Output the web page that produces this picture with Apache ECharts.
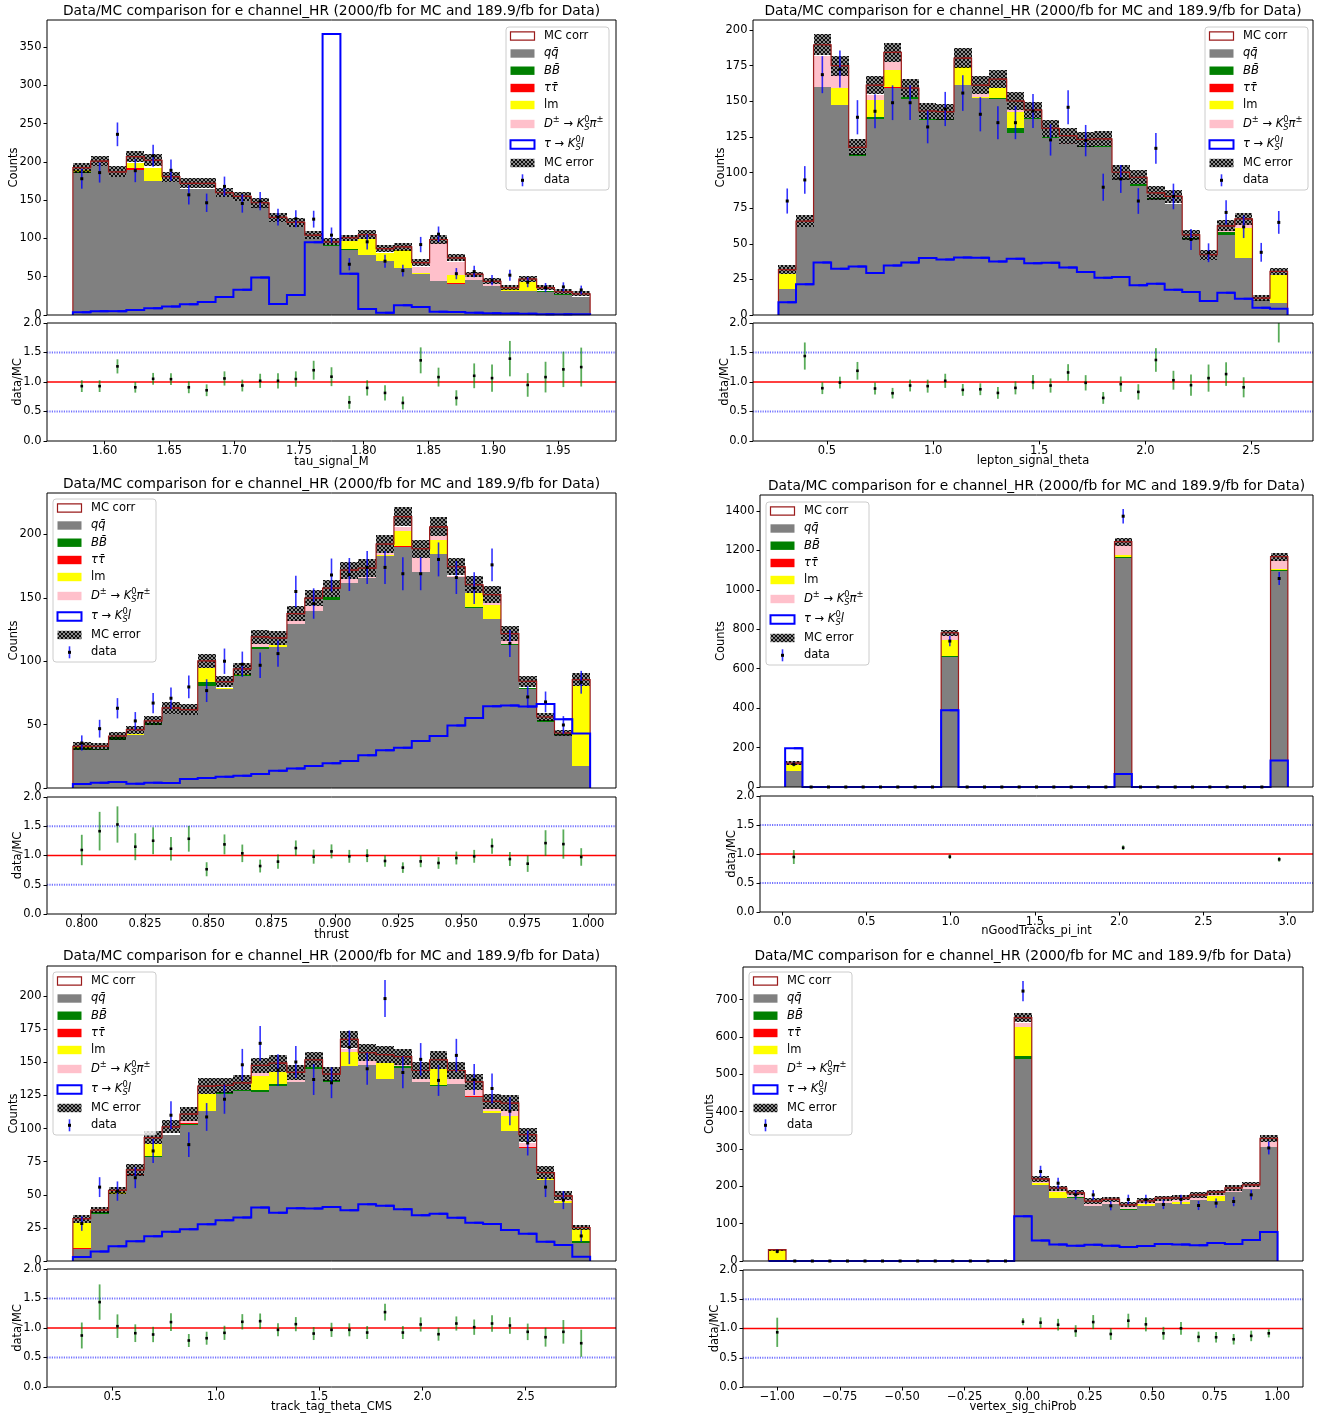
<!DOCTYPE html>
<html><head><meta charset="utf-8">
<script src="https://cdn.jsdelivr.net/npm/echarts@6/dist/echarts.min.js"></script>
<style>html,body{margin:0;padding:0;background:#fff}#c{width:1330px;height:1418px}</style>
</head><body><div id="c"></div>
<script>
// ===================== DATA =====================
const TITLE = 'Data/MC comparison for e channel_HR (2000/fb for MC and 189.9/fb for Data)';
const ratio_refs = [1.0, 0.5, 1.5];
const ratio_yTicks = [0, 0.5, 1.0, 1.5, 2.0];

// ---- Panel 1: tau_signal_M ----
const p1_range = [1.5756, 1.9747];
const p1_xTicks = [1.60, 1.65, 1.70, 1.75, 1.80, 1.85, 1.90, 1.95];
const p1_yTicks = [0, 50, 100, 150, 200, 250, 300, 350];
const p1_qq = [186, 194, 180, 190, 174.5, 174, 165, 165, 153.5, 149, 140.5, 122, 115, 99, 90, 85.5, 78, 70, 61.5, 53.7, 44, 41, 46, 37.5, 31.4, 31.4, 30.5, 26, 23.5];
const p1_bb = [1, 1, 0.5, 0, 0.5, 0, 0, 0, 0, 0, 0, 0, 0, 0, 1.3, 0.9, 0, 0, 0, 0, 0.8, 0, 0, 1, 0, 0, 1, 1, 0.5];
const p1_tt = [0, 0, 0, 1.5, 0, 0, 0, 0, 0, 0, 0, 0, 0, 0, 0, 0, 0, 0, 0, 0, 0, 1, 0, 0, 0, 0, 0, 0, 0];
const p1_lm = [2, 0, 0, 7.5, 16.5, 0, 0, 0, 0, 0, 0, 0, 0, 0, 0, 10, 21.5, 11, 24, 1.3, 0, 10, 0, 0, 2.2, 11.4, 0, 0, 0];
const p1_dd = [1, 0, 0, 0, 0, 0, 0, 0, 0, 0, 0, 0, 0, 0, 0, 0, 0, 0, 0, 8, 49, 17.4, 4, 2, 0, 0, 0, 0, 0];
const p1_corr = [192.4, 201, 187, 207, 202, 180.7, 172, 172, 159.7, 155, 146.6, 127.4, 121, 104.3, 95.6, 101, 105, 86.8, 89, 68.5, 98.6, 74.6, 53.2, 44, 35.8, 47, 35.8, 30.5, 27.5];
const p1_mcerr = [6.5, 6.5, 7, 7.5, 8, 6.5, 6.5, 6.5, 6, 6, 6.5, 5.3, 6, 5, 4.5, 4, 6, 5, 5, 4, 5.5, 4.5, 3.5, 4, 3, 3.5, 3.5, 3.2, 3.2];
const p1_sig = [3.5, 5, 5, 6.5, 8.7, 11, 14, 17, 23.5, 33, 49, 14.4, 26, 95, 367, 54, 7.9, 3, 12.7, 10.5, 4.4, 4, 3, 2.2, 1.8, 1.7, 0.9, 0.9, 0.9];
const p1_data = [178, 186, 236, 188.5, 208, 189, 157, 146.6, 168, 145.7, 148.8, 127.9, 125.7, 125.2, 104.3, 66.3, 95.6, 70.3, 58, 92, 105.6, 54, 56.7, 45.4, 52, 42.8, 35.8, 36.7, 32.7];
const p1_dataErr = [13, 13, 15.5, 15, 14.5, 14, 12.5, 12, 12.8, 12, 12, 11, 11, 11, 10, 8, 10, 8.5, 7.7, 10, 10, 7.3, 7.5, 6.7, 7.2, 6.5, 6, 6, 5.7];
const p1_ratio = [0.93, 0.93, 1.265, 0.91, 1.054, 1.048, 0.91, 0.86, 1.06, 0.94, 1.02, 1.02, 1.05, 1.2, 1.09, 0.655, 0.9, 0.815, 0.645, 1.367, 1.083, 0.73, 1.105, 1.066, 1.396, 0.95, 1.083, 1.214, 1.253];
const p1_ratioErr = [0.1, 0.1, 0.12, 0.09, 0.1, 0.1, 0.1, 0.1, 0.12, 0.1, 0.12, 0.13, 0.13, 0.16, 0.16, 0.11, 0.13, 0.13, 0.11, 0.22, 0.16, 0.13, 0.21, 0.23, 0.3, 0.2, 0.26, 0.3, 0.33];

// ---- Panel 2: lepton_signal_theta ----
const p2_range = [0.2717, 2.67];
const p2_xTicks = [0.5, 1.0, 1.5, 2.0, 2.5];
const p2_yTicks = [0, 25, 50, 75, 100, 125, 150, 175, 200];
const p2_qq = [18, 61.7, 160.3, 147.4, 111.7, 137.6, 159, 151.4, 137, 137, 161.4, 152.3, 151.6, 127.5, 137.4, 124.3, 119.8, 117.7, 118, 96, 90.4, 81.3, 78, 53, 38.5, 56.3, 40, 10.3, 8.4];
const p2_bb = [0, 0, 0, 0, 1, 1.4, 0, 1.4, 0.8, 0.8, 0, 0, 0.7, 4, 0.9, 0.9, 0, 0.9, 0.9, 0, 1.6, 0.8, 0, 1.2, 0, 1.9, 0, 0, 0];
const p2_tt = [0, 0, 0, 0, 0, 0, 1, 0, 0, 0, 0, 0, 0, 0, 0, 0, 0, 0, 0, 0, 0, 0, 0, 0, 0, 0, 0, 0, 0];
const p2_lm = [10.7, 0, 0, 11.6, 0, 11.9, 12, 0, 0, 0, 12.4, 0.9, 6.7, 11.2, 0, 0, 0, 0, 0, 0, 0, 0, 0, 0, 0, 0, 21.2, 0, 19.9];
const p2_dd = [0, 0, 21.7, 9.2, 0, 3.7, 5.3, 0, 0, 0, 0, 1.7, 0, 1.2, 0, 0, 0.7, 0, 0, 0, 0, 0, 0, 0, 0, 1.6, 3.3, 0, 0];
const p2_corr = [31.8, 65.9, 189.7, 175, 117.7, 161.4, 184.3, 159.3, 143.2, 142.7, 180.3, 161.4, 165.6, 150.2, 143.9, 131, 125.9, 123.3, 123.6, 100.2, 96.7, 85.7, 83.2, 56.3, 42.3, 62.6, 67.5, 11.9, 30.6];
const p2_mcerr = [3, 4.3, 7.5, 7, 5.6, 6.5, 6.7, 6.3, 5.5, 5.5, 6.8, 6.3, 6.5, 6.4, 5.6, 5.8, 5.6, 5.1, 5.3, 5.1, 4.9, 4.9, 4.5, 3.4, 3.6, 3.9, 4, 1.8, 2.5];
const p2_sig = [8.9, 21.5, 36.9, 32.5, 34, 29.4, 34.8, 36.9, 40, 39, 40.4, 40.2, 37.6, 39.5, 36.4, 36.7, 33.4, 30.1, 26.2, 26.6, 20.8, 22, 17.8, 16.1, 9.8, 15.6, 11.4, 5.1, 4.4];
const p2_data = [80, 94.8, 168.7, 172.6, 138.8, 143, 149, 149, 132, 144.6, 155.8, 140.9, 135, 135, 143.2, 122.9, 145.8, 122.4, 89.7, 95.5, 80, 117, 83.2, 53, 43.7, 72, 61.9, 44, 65];
const p2_dataErr = [8.8, 9.7, 13, 13, 12, 12, 12.2, 12.2, 11.5, 12, 12.5, 12, 11.6, 11.6, 12, 11, 12, 11, 9.5, 9.8, 9, 10.8, 9, 7.3, 6.6, 8.5, 7.9, 6.6, 8];
const p2_ratio = [2.5, 1.44, 0.895, 0.99, 1.19, 0.89, 0.81, 0.94, 0.93, 1.02, 0.866, 0.877, 0.815, 0.9, 0.997, 0.94, 1.162, 0.986, 0.73, 0.963, 0.832, 1.373, 1.03, 0.946, 1.066, 1.134, 0.91, 3.7, 2.12];
const p2_ratioErr = [0.3, 0.23, 0.1, 0.1, 0.15, 0.1, 0.09, 0.1, 0.11, 0.12, 0.1, 0.1, 0.1, 0.11, 0.12, 0.12, 0.14, 0.13, 0.1, 0.13, 0.13, 0.2, 0.16, 0.18, 0.23, 0.2, 0.17, 0.6, 0.45];

// ---- Panel 3: thrust ----
const p3_range = [0.7965, 1.0009];
const p3_xTicks = [0.800, 0.825, 0.850, 0.875, 0.900, 0.925, 0.950, 0.975, 1.000];
const p3_yTicks = [0, 50, 100, 150, 200];
const p3_qq = [29.7, 30.3, 37.6, 41.8, 49.7, 58.4, 57.6, 80.5, 78.2, 88.4, 109.5, 111.3, 129, 139.7, 148.4, 161.3, 165.3, 182.6, 190.3, 170.5, 184.2, 166.6, 141.6, 133.2, 112.9, 78.2, 52.1, 41.6, 17.1];
const p3_bb = [1.9, 0.5, 2.7, 0, 1.9, 0, 0, 3.4, 0, 1, 1.8, 0, 0.6, 0, 2.4, 0, 0, 0, 0, 0, 0.6, 0, 0.8, 0, 1, 1, 1.8, 0.6, 0];
const p3_tt = [0, 0, 0, 0, 0, 0, 0, 0, 0, 0, 0, 0, 0, 0, 0, 0, 0, 0, 0.5, 0, 0, 0, 0, 0, 0, 0, 0, 0, 0.5];
const p3_lm = [0.8, 0, 0, 1.1, 0, 0, 0, 10.8, 1, 0.5, 0, 1.3, 0, 0, 0, 0, 0, 1.1, 12.1, 0, 10.5, 0, 11.6, 10.8, 0, 0, 0, 0, 63];
const p3_dd = [0, 0, 0, 0, 0, 0, 0, 0, 0, 0, 2.7, 0, 2.8, 3.7, 0, 3.4, 1, 1.3, 3.1, 10.8, 3.2, 1, 0, 2, 2.9, 0, 0, 0, 0];
const p3_corr = [32.9, 32.9, 41, 46, 52.9, 63.2, 61.8, 100.3, 83.9, 94, 119.2, 118.4, 137.6, 149.7, 157.6, 171.8, 173.4, 192.4, 214, 188.7, 206, 174.5, 160.3, 152.6, 121.8, 84.2, 56, 43.4, 85.5];
const p3_mcerr = [3.2, 2.8, 3.5, 3.2, 3.5, 4.5, 4.2, 5.7, 4.5, 4.6, 5.3, 5.8, 6.1, 6.3, 6.6, 6.6, 7, 7.1, 7.6, 7.1, 7.4, 6.6, 6.6, 6.6, 5.9, 4.5, 2.9, 2, 5];
const p3_sig = [3.2, 4.2, 4.7, 3.4, 4.2, 3.9, 7.1, 7.9, 8.9, 9.7, 11, 13.7, 15.3, 17.4, 19.5, 21.3, 25.8, 29.7, 31.8, 37.1, 41, 49.2, 55.3, 64.5, 65, 64.2, 66.3, 54.2, 42.9];
const p3_data = [35.5, 46.8, 62.9, 52.9, 67, 70.8, 79.7, 76.8, 100, 97.6, 96.8, 106, 155, 145.5, 168, 168.4, 174, 174, 169, 169, 180.3, 166, 157.6, 176, 114, 71.8, 67.9, 49.7, 83.4];
const p3_dataErr = [6, 7, 8, 7, 8, 8.4, 9, 9, 10, 10, 10, 10.3, 12.5, 12, 13, 13, 13, 13, 13, 13, 13.4, 13, 12.5, 13, 10.7, 8.5, 8.2, 7, 9];
const p3_ratio = [1.094, 1.416, 1.53, 1.15, 1.252, 1.116, 1.286, 0.765, 1.19, 1.037, 0.82, 0.895, 1.127, 0.98, 1.07, 0.986, 0.997, 0.906, 0.793, 0.9, 0.872, 0.957, 0.986, 1.16, 0.94, 0.86, 1.212, 1.195, 0.975];
const p3_ratioErr = [0.26, 0.33, 0.31, 0.23, 0.23, 0.2, 0.22, 0.12, 0.17, 0.15, 0.11, 0.12, 0.13, 0.12, 0.12, 0.11, 0.11, 0.1, 0.09, 0.1, 0.1, 0.11, 0.11, 0.13, 0.12, 0.14, 0.22, 0.25, 0.15];

// ---- Panel 4: nGoodTracks_pi_int ----
const p4_range = [0.0167, 3.002];
const p4_xTicks = [0.0, 0.5, 1.0, 1.5, 2.0, 2.5, 3.0];
const p4_yTicks = [0, 200, 400, 600, 800, 1000, 1200, 1400];
const p4_qq = [79.8, 0, 0, 0, 0, 0, 0, 0, 0, 660, 0, 0, 0, 0, 0, 0, 0, 0, 0, 1162, 0, 0, 0, 0, 0, 0, 0, 0, 1096];
const p4_bb = [0, 0, 0, 0, 0, 0, 0, 0, 0, 5, 0, 0, 0, 0, 0, 0, 0, 0, 0, 3, 0, 0, 0, 0, 0, 0, 0, 0, 2];
const p4_tt = [0, 0, 0, 0, 0, 0, 0, 0, 0, 0, 0, 0, 0, 0, 0, 0, 0, 0, 0, 0, 0, 0, 0, 0, 0, 0, 0, 0, 0];
const p4_lm = [30.5, 0, 0, 0, 0, 0, 0, 0, 0, 82, 0, 0, 0, 0, 0, 0, 0, 0, 0, 13, 0, 0, 0, 0, 0, 0, 0, 0, 5];
const p4_dd = [5, 0, 0, 0, 0, 0, 0, 0, 0, 22, 0, 0, 0, 0, 0, 0, 0, 0, 0, 47, 0, 0, 0, 0, 0, 0, 0, 0, 46];
const p4_corr = [121, 0, 0, 0, 0, 0, 0, 0, 0, 782, 0, 0, 0, 0, 0, 0, 0, 0, 0, 1244, 0, 0, 0, 0, 0, 0, 0, 0, 1168];
const p4_mcerr = [9, 0, 0, 0, 0, 0, 0, 0, 0, 14, 0, 0, 0, 0, 0, 0, 0, 0, 0, 20, 0, 0, 0, 0, 0, 0, 0, 0, 20];
const p4_sig = [196.9, 0, 0, 0, 0, 0, 0, 0, 0, 388.6, 0, 0, 0, 0, 0, 0, 0, 0, 0, 66.2, 0, 0, 0, 0, 0, 0, 0, 0, 134];
const p4_data = [115.4, 0, 0, 0, 0, 0, 0, 0, 0, 740, 0, 0, 0, 0, 0, 0, 0, 0, 0, 1373, 0, 0, 0, 0, 0, 0, 0, 0, 1057];
const p4_dataErr = [10, 0, 0, 0, 0, 0, 0, 0, 0, 26, 0, 0, 0, 0, 0, 0, 0, 0, 0, 37, 0, 0, 0, 0, 0, 0, 0, 0, 33];
const p4_ratio = [0.948, null, null, null, null, null, null, null, null, 0.954, null, null, null, null, null, null, null, null, null, 1.109, null, null, null, null, null, null, null, null, 0.908];
const p4_ratioErr = [0.12, null, null, null, null, null, null, null, null, 0.04, null, null, null, null, null, null, null, null, null, 0.04, null, null, null, null, null, null, null, null, 0.04];

// ---- Panel 5: track_tag_theta_CMS ----
const p5_range = [0.308, 2.812];
const p5_xTicks = [0.5, 1.0, 1.5, 2.0, 2.5];
const p5_yTicks = [0, 25, 50, 75, 100, 125, 150, 175, 200];
const p5_qq = [9.3, 35.6, 50.3, 64.9, 78.3, 95.5, 102.8, 113.6, 126.3, 128.5, 127.3, 131.8, 135.4, 145, 134.9, 147, 148.2, 137.6, 145.5, 135.1, 131.8, 133.6, 124.2, 112.1, 98.5, 85.1, 61.1, 43.9, 13.6];
const p5_bb = [0, 1.5, 0, 0, 0.7, 0, 0.8, 0, 1, 0.8, 1.5, 1.8, 0, 1.5, 1.5, 0, 0, 0, 1.5, 0, 1.5, 0, 0, 0, 0, 0, 0, 0, 1.3];
const p5_tt = [0.5, 0, 0, 0.5, 0, 0, 0.5, 0, 0, 0, 0.5, 0, 0, 0, 0, 0, 0, 0, 0, 0, 0, 0, 0.8, 0, 0, 0.9, 0, 0, 0];
const p5_lm = [19.2, 0, 1.5, 0, 9.6, 0, 0, 12.2, 0, 0, 10.1, 9.3, 0, 0, 0, 10.8, 0, 12.2, 0, 0, 11.7, 0, 0, 1, 11.1, 0, 1.3, 1.6, 9.1];
const p5_dd = [0, 0, 0, 0, 0, 0, 2.5, 0, 0, 0, 2.5, 0, 1.2, 0, 0, 2.6, 2.6, 0, 2, 2.5, 0, 3.8, 3.8, 2.1, 3.5, 3, 0, 1.5, 0];
const p5_corr = [32, 38.4, 53.3, 68.9, 93.2, 101.3, 110.9, 132.1, 132.6, 134.6, 147.7, 149.5, 142.4, 152, 141.2, 167.4, 157.3, 155.8, 154.3, 143.9, 152, 143.9, 135.4, 120.5, 119.2, 95.5, 66.7, 49.2, 25.3];
const p5_mcerr = [3, 2.4, 2.8, 4.4, 5, 5, 5.5, 5.8, 5.8, 5.7, 6, 6.4, 5.8, 5.7, 5.3, 6.6, 6.5, 6.4, 6, 6.4, 6.9, 6.5, 6, 5.5, 6.1, 5.3, 4.7, 3.5, 2.2];
const p5_sig = [3, 7.1, 11.1, 14.9, 18.7, 22, 24, 27.8, 30.8, 32.8, 40.4, 36.4, 39.9, 39.6, 40.7, 38.4, 42.9, 41.7, 39.1, 34.6, 35.6, 32.6, 28.8, 28, 23.5, 20.5, 14.6, 12.1, 3.3];
const p5_data = [28.3, 55.8, 52.8, 62.9, 83.1, 110.1, 87.9, 108.8, 122.2, 148.2, 164.4, 144.2, 150.3, 137.1, 134.6, 161.4, 145.2, 198.2, 142.4, 152.3, 136.4, 155.3, 137.1, 130.3, 113.1, 89.1, 55.8, 46, 18.9];
const p5_dataErr = [5.5, 7.5, 7.3, 7.9, 9, 10.5, 9.4, 10.5, 11, 12, 13, 12, 12, 11.7, 11.6, 12.7, 12, 14, 12, 12.3, 11.7, 12.5, 11.7, 11.4, 10.6, 9.4, 7.5, 6.8, 4.4];
const p5_ratio = [0.873, 1.439, 1.031, 0.912, 0.89, 1.1, 0.788, 0.827, 0.918, 1.105, 1.116, 0.969, 1.065, 0.906, 0.969, 0.969, 0.923, 1.269, 0.923, 1.06, 0.895, 1.076, 1.014, 1.076, 1.042, 0.935, 0.844, 0.935, 0.742];
const p5_ratioErr = [0.22, 0.3, 0.2, 0.15, 0.13, 0.15, 0.11, 0.11, 0.12, 0.13, 0.13, 0.11, 0.12, 0.11, 0.12, 0.11, 0.11, 0.14, 0.11, 0.12, 0.11, 0.12, 0.13, 0.14, 0.14, 0.14, 0.16, 0.2, 0.23];

// ---- Panel 6: vertex_sig_chiProb ----
const p6_range = [-1.0353, 1.0016];
const p6_xTicks = [-1.00, -0.75, -0.50, -0.25, 0.00, 0.25, 0.50, 0.75, 1.00];
const p6_yTicks = [0, 100, 200, 300, 400, 500, 600, 700];
const p6_qq = [0, 0, 0, 0, 0, 0, 0, 0, 0, 0, 0, 0, 0, 0, 542.4, 204, 170, 168.3, 147, 152.3, 136.3, 147, 155.9, 153.2, 163.9, 159.4, 183.5, 192.4, 304.6];
const p6_bb = [0, 0, 0, 0, 0, 0, 0, 0, 0, 0, 0, 0, 0, 0, 7, 0, 0, 2.7, 0, 0, 3.5, 0, 0, 0, 0, 0, 0, 0, 0];
const p6_tt = [0, 0, 0, 0, 0, 0, 0, 0, 0, 0, 0, 0, 0, 0, 0, 0, 0, 0, 0, 0, 0, 0, 0, 0, 0, 0, 0, 0, 0];
const p6_lm = [28.5, 0, 0, 0, 0, 0, 0, 0, 0, 0, 0, 0, 0, 0, 77.5, 5.3, 14.4, 0, 0, 0, 0, 4.4, 0, 4.4, 0, 15.2, 0, 0, 0];
const p6_dd = [0, 0, 0, 0, 0, 0, 0, 0, 0, 0, 0, 0, 0, 0, 11.6, 6.2, 4.4, 5, 6.2, 6.2, 5, 5, 6.1, 6.3, 7.1, 5.4, 7.1, 6.2, 15.1];
const p6_corr = [30.3, 0, 0, 0, 0, 0, 0, 0, 0, 0, 0, 0, 0, 0, 652, 220, 195, 182.6, 160.3, 164.8, 150.5, 161.2, 168.3, 169.2, 177.2, 184.4, 196, 204, 328.6];
const p6_mcerr = [3, 0, 0, 0, 0, 0, 0, 0, 0, 0, 0, 0, 0, 0, 12.5, 8.5, 6.6, 6.3, 7.5, 7, 7, 7, 7, 7, 7.2, 7, 7.2, 7, 9];
const p6_sig = [0, 0, 0, 0, 0, 0, 0, 0, 0, 0, 0, 0, 0, 0, 120.2, 55.2, 44.5, 41, 43.6, 41, 37.4, 40, 45.4, 44.5, 41.9, 48.1, 45.4, 56.1, 77.5];
const p6_data = [25.8, 0, 0, 0, 0, 0, 0, 0, 0, 0, 0, 0, 0, 0, 723, 239.6, 208.4, 177.2, 177, 147.8, 164.8, 164.8, 151.4, 164.8, 148.7, 155, 159.4, 177.2, 302.8];
const p6_dataErr = [5, 0, 0, 0, 0, 0, 0, 0, 0, 0, 0, 0, 0, 0, 27, 15.5, 14.5, 13, 13, 12, 12.8, 12.8, 12.3, 12.8, 12.2, 12.5, 12.6, 13.3, 17.4];
const p6_ratio = [0.935, null, null, null, null, null, null, null, null, null, null, null, null, null, 1.116, 1.1, 1.065, 0.957, 1.11, 0.906, 1.133, 1.071, 0.918, 1.003, 0.856, 0.85, 0.816, 0.873, 0.918];
const p6_ratioErr = [0.25, null, null, null, null, null, null, null, null, null, null, null, null, null, 0.06, 0.09, 0.1, 0.1, 0.12, 0.1, 0.12, 0.12, 0.11, 0.11, 0.09, 0.09, 0.09, 0.09, 0.07];

// ===================== BUILD =====================
const panels = [
  {name:'tau_signal_M', range:p1_range, qq:p1_qq, bb:p1_bb, tt:p1_tt, lm:p1_lm, dd:p1_dd, corr:p1_corr, err:p1_mcerr, sig:p1_sig, data:p1_data, dataErr:p1_dataErr, ratio:p1_ratio, ratioErr:p1_ratioErr, xTicks:p1_xTicks, yTicks:p1_yTicks, xDec:2},
  {name:'lepton_signal_theta', range:p2_range, qq:p2_qq, bb:p2_bb, tt:p2_tt, lm:p2_lm, dd:p2_dd, corr:p2_corr, err:p2_mcerr, sig:p2_sig, data:p2_data, dataErr:p2_dataErr, ratio:p2_ratio, ratioErr:p2_ratioErr, xTicks:p2_xTicks, yTicks:p2_yTicks, xDec:1},
  {name:'thrust', range:p3_range, qq:p3_qq, bb:p3_bb, tt:p3_tt, lm:p3_lm, dd:p3_dd, corr:p3_corr, err:p3_mcerr, sig:p3_sig, data:p3_data, dataErr:p3_dataErr, ratio:p3_ratio, ratioErr:p3_ratioErr, xTicks:p3_xTicks, yTicks:p3_yTicks, xDec:3},
  {name:'nGoodTracks_pi_int', range:p4_range, qq:p4_qq, bb:p4_bb, tt:p4_tt, lm:p4_lm, dd:p4_dd, corr:p4_corr, err:p4_mcerr, sig:p4_sig, data:p4_data, dataErr:p4_dataErr, ratio:p4_ratio, ratioErr:p4_ratioErr, xTicks:p4_xTicks, yTicks:p4_yTicks, xDec:1},
  {name:'track_tag_theta_CMS', range:p5_range, qq:p5_qq, bb:p5_bb, tt:p5_tt, lm:p5_lm, dd:p5_dd, corr:p5_corr, err:p5_mcerr, sig:p5_sig, data:p5_data, dataErr:p5_dataErr, ratio:p5_ratio, ratioErr:p5_ratioErr, xTicks:p5_xTicks, yTicks:p5_yTicks, xDec:1},
  {name:'vertex_sig_chiProb', range:p6_range, qq:p6_qq, bb:p6_bb, tt:p6_tt, lm:p6_lm, dd:p6_dd, corr:p6_corr, err:p6_mcerr, sig:p6_sig, data:p6_data, dataErr:p6_dataErr, ratio:p6_ratio, ratioErr:p6_ratioErr, xTicks:p6_xTicks, yTicks:p6_yTicks, xDec:2}
];

const layout = [
  {main:[47,20,569,295],  ratio:[47,323,569,118],  legend:[506,27],  titleY:12.5, cGap:26.5, rGap:22.5, xGap:15},
  {main:[753,20,560,295], ratio:[753,323,560,118], legend:[1205,27], titleY:12.5, cGap:25.5, rGap:21.5, xGap:14.5},
  {main:[47,493,569,295], ratio:[47,797,569,117],  legend:[53,499],  titleY:485.7, cGap:26.5, rGap:22.5, xGap:15},
  {main:[760,495,553,292],ratio:[760,796,553,116], legend:[766,502], titleY:487.7, cGap:32.5, rGap:21.5, xGap:13.5},
  {main:[47,966,569,295], ratio:[47,1269,569,118], legend:[53,972],  titleY:958.3, cGap:26.5, rGap:22.5, xGap:14},
  {main:[743,967,560,294],ratio:[743,1270,560,117],legend:[749,972], titleY:958.3, cGap:26.5, rGap:21.5, xGap:14}
];

const FF = 'DejaVu Sans';
const FS = 11.5;
const COMP_COLORS = ['#808080', '#008000', '#ff0000', '#ffff00', '#ffc0cb'];
const CORR_COLOR = '#9a1c1c';

// hatch pattern: dense black cross-hatch over a translucent dark background
const hc = document.createElement('canvas'); hc.width = 4; hc.height = 4;
(function(){ const g = hc.getContext('2d'); const im = g.createImageData(4, 4);
  for (let y = 0; y < 4; y++) for (let x = 0; x < 4; x++) {
    const p = (y * 4 + x) * 4; const on = (x === y) || (x + y === 3);
    im.data[p] = 0; im.data[p+1] = 0; im.data[p+2] = 0; im.data[p+3] = on ? 240 : 115;
  }
  g.putImageData(im, 0, 0); })();
const HATCH = {image: hc, repeat: 'repeat'};

const mctx = document.createElement('canvas').getContext('2d');
function textW(t, size, italic) { mctx.font = (italic ? 'italic ' : '') + size + 'px "' + FF + '"'; return mctx.measureText(t).width; }

function rs(api, x0, x1, y0, y1, snap) {
  const a = api.coord([x0, y1]), b = api.coord([x1, y0]);
  if (snap) { const l = Math.round(a[0]), r = Math.round(b[0]), t = Math.round(a[1]), btm = Math.round(b[1]);
    return {x:l, y:t, width:r - l, height:btm - t}; }
  return {x: a[0], y: a[1], width: b[0] - a[0], height: b[1] - a[1]};
}

const option = {animation:false, backgroundColor:'#ffffff', textStyle:{fontFamily:FF},
  title:[], grid:[], xAxis:[], yAxis:[], series:[], graphic:{elements:[]}};
const G = option.graphic.elements;

panels.forEach((P, k) => {
  const L = layout[k];
  const n = P.qq.length, lo = P.range[0], hi = P.range[1], w = (hi - lo) / n;
  const xmin = lo - 0.05 * (hi - lo), xmax = hi + 0.05 * (hi - lo);
  const ctr = i => lo + (i + 0.5) * w;
  let ym = 0;
  for (let i = 0; i < n; i++) ym = Math.max(ym, P.corr[i] + P.err[i], P.data[i] + P.dataErr[i], P.sig[i], P.qq[i]+P.bb[i]+P.tt[i]+P.lm[i]+P.dd[i]);
  const ymax = ym * 1.05;
  const gi = 2 * k, ri = 2 * k + 1;
  [L.main, L.ratio].forEach(g => {
    option.grid.push({left:g[0], top:g[1], width:g[2], height:g[3], show:false, containLabel:false, outerBoundsMode:'none'});
    G.push({type:'rect', shape:{x:g[0], y:g[1], width:g[2], height:g[3]}, style:{fill:'none', stroke:'#000', lineWidth:1}, z:50, silent:true});
  });
  const lblStyle = {fontFamily:FF, fontSize:FS, color:'#000'};
  const nameStyle = {fontFamily:FF, fontSize:FS, color:'#000'};
  const xfmt = v => v.toFixed(P.xDec).replace('-', '\u2212');
  const noLine = {show:false, onZero:false};
  // main axes
  option.xAxis.push({type:'value', gridIndex:gi, min:xmin, max:xmax, axisLine:noLine, axisTick:{show:false}, axisLabel:{show:false}, splitLine:{show:false}});
  option.yAxis.push({type:'value', gridIndex:gi, min:0, max:ymax, axisLine:noLine, position:'left',
    axisTick:{show:true, inside:false, length:3.5, lineStyle:{color:'#000', width:1}, customValues:P.yTicks},
    axisLabel:{show:true, customValues:P.yTicks, margin:5.5, ...lblStyle, formatter: v => String(Math.round(v))},
    splitLine:{show:false}, name:'Counts', nameLocation:'middle', nameGap:L.cGap, nameMoveOverlap:false, nameTextStyle:nameStyle});
  // ratio axes
  option.xAxis.push({type:'value', gridIndex:ri, min:xmin, max:xmax, axisLine:noLine, position:'bottom',
    axisTick:{show:true, inside:false, length:3.5, lineStyle:{color:'#000', width:1}, customValues:P.xTicks},
    axisLabel:{show:true, customValues:P.xTicks, margin:4.5, ...lblStyle, formatter:xfmt},
    splitLine:{show:false}, name:P.name, nameLocation:'middle', nameGap:L.xGap, nameMoveOverlap:false, nameTextStyle:nameStyle});
  option.yAxis.push({type:'value', gridIndex:ri, min:0, max:2, axisLine:noLine, position:'left',
    axisTick:{show:true, inside:false, length:3.5, lineStyle:{color:'#000', width:1}, customValues:ratio_yTicks},
    axisLabel:{show:true, customValues:ratio_yTicks, margin:5.5, ...lblStyle, formatter: v => v.toFixed(1)},
    splitLine:{show:false}, name:'data/MC', nameLocation:'middle', nameGap:L.rGap, nameMoveOverlap:false, nameTextStyle:nameStyle});

  // title
  const tw = textW(TITLE, 13.8, false);
  const cx = L.main[0] + L.main[2] / 2;
  option.title.push({text:TITLE, left:cx - tw / 2, top:L.titleY - 8.5, padding:0,
    textStyle:{fontFamily:FF, fontSize:13.8, fontWeight:'normal', color:'#000'}});

  // stacked MC components
  option.series.push({type:'custom', name:'MC stack', xAxisIndex:gi, yAxisIndex:gi, z:2, silent:true,
    data: P.qq.map((q, i) => [ctr(i), q, P.bb[i], P.tt[i], P.lm[i], P.dd[i]]),
    encode:{x:0, y:1},
    renderItem: (params, api) => {
      const xc = api.value(0); let base = 0; const ch = [];
      for (let j = 0; j < 5; j++) { const h = api.value(1 + j);
        if (h > 0) { ch.push({type:'rect', shape:rs(api, xc - w/2, xc + w/2, base, base + h, true), style:{fill:COMP_COLORS[j]}}); base += h; } }
      return {type:'group', children:ch};
    }});
  // MC error hatch
  option.series.push({type:'custom', name:'MC error', xAxisIndex:gi, yAxisIndex:gi, z:3, silent:true,
    data: P.corr.map((c, i) => [ctr(i), c, P.err[i]]), encode:{x:0, y:1},
    renderItem: (params, api) => {
      const xc = api.value(0), c = api.value(1), e = api.value(2);
      if (!(e > 0)) return null;
      return {type:'rect', shape:rs(api, xc - w/2, xc + w/2, c - e, c + e, true), style:{fill:HATCH}};
    }});
  // step outlines (MC corr and signal)
  const stepSeries = (name, arr, color, lw, z) => ({type:'custom', name, xAxisIndex:gi, yAxisIndex:gi, z, silent:true,
    data: arr.map((v, i) => [ctr(i), v]), encode:{x:0, y:1},
    renderItem: (params, api) => {
      const idx = params.dataIndexInside, xc = api.value(0), v = api.value(1);
      const x0 = xc - w/2, x1 = xc + w/2;
      const pts = [];
      if (idx > 0) { const pv = api.value(1, idx - 1); pts.push(api.coord([x0 - w/2, pv]), api.coord([x0, pv])); }
      else pts.push(api.coord([x0, 0]));
      pts.push(api.coord([x0, v]), api.coord([x1, v]));
      if (idx === params.dataInsideLength - 1) pts.push(api.coord([x1, 0]));
      return {type:'polyline', shape:{points:pts}, style:{stroke:color, lineWidth:lw, fill:null, lineJoin:'miter'}};
    }});
  option.series.push(stepSeries('MC corr', P.corr, CORR_COLOR, 1.2, 4));
  option.series.push(stepSeries('\u03c4\u2192K_S^0 l', P.sig, '#0000ff', 2, 5));
  // data points
  option.series.push({type:'custom', name:'data', xAxisIndex:gi, yAxisIndex:gi, z:6, silent:true,
    data: P.data.map((d, i) => [ctr(i), d, P.dataErr[i]]), encode:{x:0, y:1},
    renderItem: (params, api) => {
      const xc = api.value(0), d = api.value(1), e = api.value(2); const ch = [];
      const p = api.coord([xc, d]);
      if (e > 0) { const a = api.coord([xc, d - e]), b = api.coord([xc, d + e]);
        ch.push({type:'line', shape:{x1:a[0], y1:a[1], x2:b[0], y2:b[1]}, style:{stroke:'#0000ff', lineWidth:1.6, opacity:0.8}}); }
      ch.push({type:'rect', shape:{x:p[0] - 1.5, y:p[1] - 1.5, width:3, height:3}, style:{fill:'#000'}});
      return {type:'group', children:ch};
    }});
  // ratio reference lines
  ratio_refs.forEach((r, j) => {
    option.series.push({type:'line', xAxisIndex:ri, yAxisIndex:ri, data:[[xmin, r], [xmax, r]], symbol:'none', silent:true, z:1,
      lineStyle: j === 0 ? {color:'#ff0000', width:1.3, type:'solid'} : {color:'#0000ff', width:1.8, type:[1.2, 1.2], opacity:0.55}});
  });
  // ratio points
  const rdata = [];
  P.ratio.forEach((r, i) => { if (r !== null) rdata.push([ctr(i), r, P.ratioErr[i]]); });
  option.series.push({type:'custom', name:'data/MC', xAxisIndex:ri, yAxisIndex:ri, z:3, silent:true, clip:true,
    data: rdata, encode:{x:0, y:1},
    renderItem: (params, api) => {
      const xc = api.value(0), r = api.value(1), e = api.value(2);
      const a = api.coord([xc, r - e]), b = api.coord([xc, r + e]), p = api.coord([xc, r]);
      return {type:'group', children:[
        {type:'line', shape:{x1:a[0], y1:a[1], x2:b[0], y2:b[1]}, style:{stroke:'#008000', lineWidth:1.8, opacity:0.65}},
        {type:'rect', shape:{x:p[0] - 1.3, y:p[1] - 1.3, width:2.6, height:2.6}, style:{fill:'#000'}}
      ]};
    }});

  // legend
  const lx = L.legend[0], ly = L.legend[1];
  const off = [9, 26.5, 43.7, 61, 78, 97, 117.5, 136, 153.3];
  G.push({type:'rect', shape:{x:lx, y:ly, width:103, height:163, r:3}, style:{fill:'rgba(255,255,255,0.8)', stroke:'#cccccc', lineWidth:1}, z:100, silent:true});
  const icon = (j, style) => G.push({type:'rect', shape:{x:lx + 4.5, y:ly + off[j] - 4.2, width:24, height:8.4}, style, z:101, silent:true});
  icon(0, {fill:'#ffffff', stroke:CORR_COLOR, lineWidth:1.2});
  for (let j = 0; j < 5; j++) icon(1 + j, {fill:COMP_COLORS[j]});
  icon(6, {fill:'#ffffff', stroke:'#0000ff', lineWidth:2});
  icon(7, {fill:HATCH});
  G.push({type:'line', shape:{x1:lx + 16.5, y1:ly + off[8] - 6, x2:lx + 16.5, y2:ly + off[8] + 6}, style:{stroke:'#0000ff', lineWidth:1.6, opacity:0.8}, z:101, silent:true});
  G.push({type:'rect', shape:{x:lx + 15, y:ly + off[8] - 1.5, width:3, height:3}, style:{fill:'#000'}, z:102, silent:true});
  const labels = [
    [{t:'MC corr'}],
    [{t:'qq\u0304', i:1}],
    [{t:'BB\u0304', i:1}],
    [{t:'\u03c4\u03c4\u0304', i:1}],
    [{t:'lm'}],
    [{t:'D', i:1}, {t:'\u00b1', s:'sup'}, {t:' \u2192 '}, {t:'K', i:1}, {t:'0', s:'sup', hold:1}, {t:'S', s:'sub', i:1}, {t:'\u03c0', i:1}, {t:'\u00b1', s:'sup'}],
    [{t:'\u03c4', i:1}, {t:' \u2192 '}, {t:'K', i:1}, {t:'0', s:'sup', hold:1}, {t:'S', s:'sub', i:1}, {t:'l', i:1}],
    [{t:'MC error'}],
    [{t:'data'}]
  ];
  labels.forEach((toks, j) => {
    let x = lx + 38; const yc = ly + off[j];
    toks.forEach(tk => {
      const size = tk.s ? 8.3 : FS;
      const dy = tk.s === 'sup' ? -4.2 : (tk.s === 'sub' ? 3.6 : 0);
      G.push({type:'text', x:x, y:yc + dy, z:102, silent:true,
        style:{text:tk.t, fontFamily:FF, fontSize:size, fontStyle: tk.i ? 'italic' : 'normal', fill:'#000', align:'left', verticalAlign:'middle'}});
      if (!tk.hold) x += textW(tk.t, size, !!tk.i);
    });
  });
});

const chart = echarts.init(document.getElementById('c'), null, {renderer:'canvas', width:1330, height:1418});
chart.setOption(option);
</script></body></html>
